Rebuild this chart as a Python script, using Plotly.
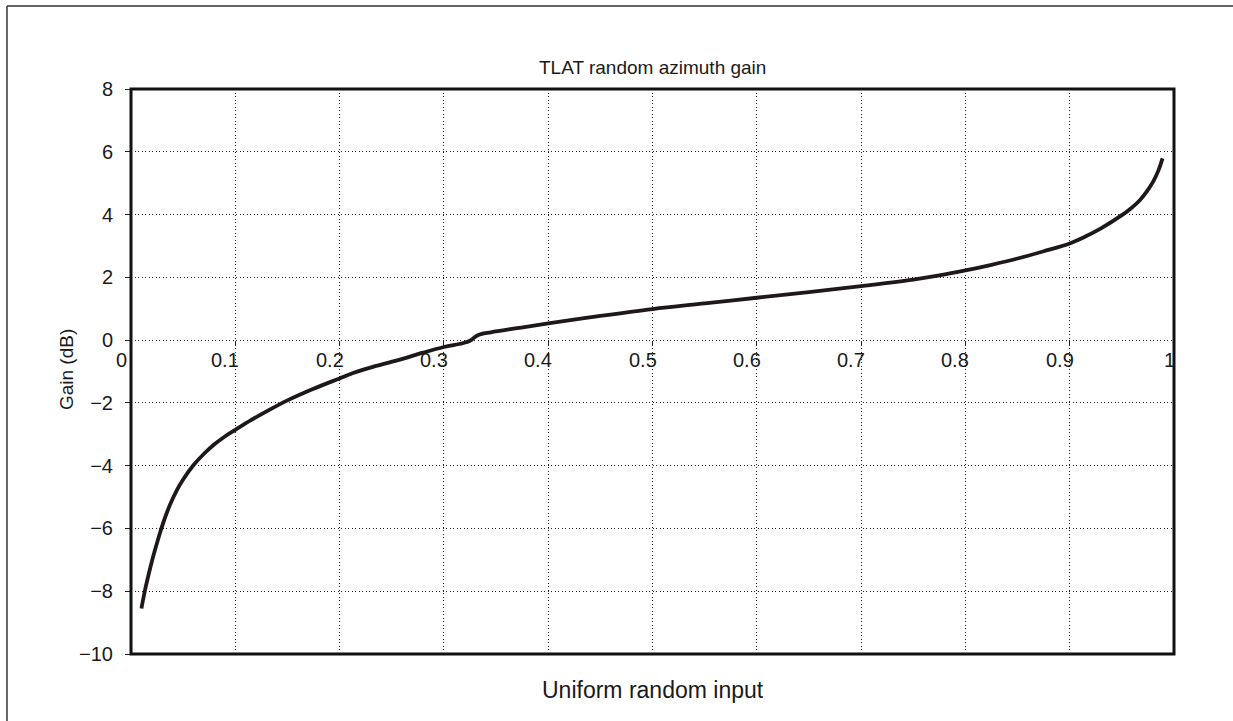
import plotly.graph_objects as go

# Gain curve of the TLAT random azimuth model versus uniform random input
uniform_input = [0.010, 0.012, 0.014, 0.017, 0.020, 0.024, 0.028, 0.033, 0.038, 0.044,
                 0.05, 0.06, 0.07, 0.08, 0.09, 0.10, 0.115, 0.13, 0.15, 0.175,
                 0.20, 0.213, 0.235, 0.258, 0.28, 0.30, 0.318, 0.325, 0.332, 0.345,
                 0.37, 0.40, 0.45, 0.50, 0.55, 0.60, 0.65, 0.70, 0.75, 0.775,
                 0.80, 0.825, 0.85, 0.875, 0.90, 0.915, 0.93, 0.95, 0.958, 0.967,
                 0.974, 0.98, 0.985, 0.989]
gain_db = [-8.55, -8.2, -7.88, -7.45, -7.05, -6.57, -6.12, -5.62, -5.20, -4.78,
           -4.44, -3.98, -3.62, -3.32, -3.07, -2.86, -2.55, -2.27, -1.92, -1.55,
           -1.22, -1.05, -0.82, -0.62, -0.40, -0.22, -0.10, -0.02, 0.15, 0.25,
           0.38, 0.53, 0.77, 0.99, 1.17, 1.35, 1.53, 1.72, 1.93, 2.06,
           2.22, 2.40, 2.60, 2.83, 3.08, 3.30, 3.56, 3.98, 4.18, 4.45,
           4.74, 5.05, 5.40, 5.79]

x_ticks = [0, 0.1, 0.2, 0.3, 0.4, 0.5, 0.6, 0.7, 0.8, 0.9, 1]
x_tick_labels = ["0", "0.1", "0.2", "0.3", "0.4", "0.5", "0.6", "0.7", "0.8", "0.9", "1"]
y_ticks = [-10, -8, -6, -4, -2, 0, 2, 4, 6, 8]

title_text = "TLAT random azimuth gain"
x_title = "Uniform random input"
y_title = "Gain (dB)"

FONT = "Liberation Sans, Arial, Helvetica, sans-serif"
INK = "#1a1a1a"
Y_MIN, Y_MAX = -10, 8

fig = go.Figure()
fig.add_trace(go.Scatter(
    x=uniform_input, y=gain_db, mode="lines",
    line=dict(color="#1e1818", width=3.8, shape="spline", smoothing=1.0),
    hoverinfo="skip", showlegend=False,
))

grid = dict(showgrid=True, gridcolor="#222222", gridwidth=1, griddash="1px,2.5px")

fig.update_layout(
    width=1233, height=721,
    margin=dict(l=131, r=59, t=89, b=67),
    paper_bgcolor="white", plot_bgcolor="white",
    font=dict(family=FONT, color=INK),
    xaxis=dict(
        range=[0, 1], tickvals=x_ticks, showticklabels=False,
        anchor="free", position=(0 - Y_MIN) / (Y_MAX - Y_MIN),
        ticks="outside", ticklen=4, tickwidth=1.2, tickcolor="#222222",
        showline=False, zeroline=False, **grid,
    ),
    yaxis=dict(
        range=[Y_MIN, Y_MAX], tickvals=y_ticks,
        ticks="outside", ticklen=5, tickwidth=1.4, tickcolor="#222222",
        ticklabelstandoff=8,
        tickfont=dict(size=20, family=FONT, color=INK),
        showline=False, zeroline=False, **grid,
    ),
)

# tick labels of the x axis sit just under the zero line, right-aligned at each tick
for v, lab in zip(x_ticks, x_tick_labels):
    shift = -2 if v == 0 else (3 if v == 1 else 6)
    fig.add_annotation(
        x=v, y=0, xref="x", yref="y", text=lab, showarrow=False,
        xanchor="right", yanchor="middle", xshift=shift, yshift=-20,
        font=dict(size=20, family=FONT, color=INK),
    )

# plot frame
fig.add_shape(type="rect", xref="paper", yref="paper", x0=0, x1=1, y0=0, y1=1,
              line=dict(color="#111111", width=3), layer="above")

# outer border of the figure
fig.add_shape(type="line", xref="paper", yref="paper", x0=-0.1189, x1=1.07,
              y0=1.1469, y1=1.1469, line=dict(color="#333333", width=1.5))
fig.add_shape(type="line", xref="paper", yref="paper", x0=-0.1189, x1=-0.1189,
              y0=1.1469, y1=-0.2, line=dict(color="#333333", width=1.5))

fig.add_annotation(x=0.5, y=1.0372, xref="paper", yref="paper", text=title_text,
                   showarrow=False, xanchor="center", yanchor="middle",
                   font=dict(size=19, family=FONT, color=INK))
fig.add_annotation(x=0.5, y=-0.0637, xref="paper", yref="paper", text=x_title,
                   showarrow=False, xanchor="center", yanchor="middle",
                   font=dict(size=23, family=FONT, color=INK))
fig.add_annotation(x=-0.0613, y=0.5027, xref="paper", yref="paper", text=y_title,
                   showarrow=False, xanchor="center", yanchor="middle", textangle=-90,
                   font=dict(size=19, family=FONT, color=INK))

fig.write_html("out.html")
